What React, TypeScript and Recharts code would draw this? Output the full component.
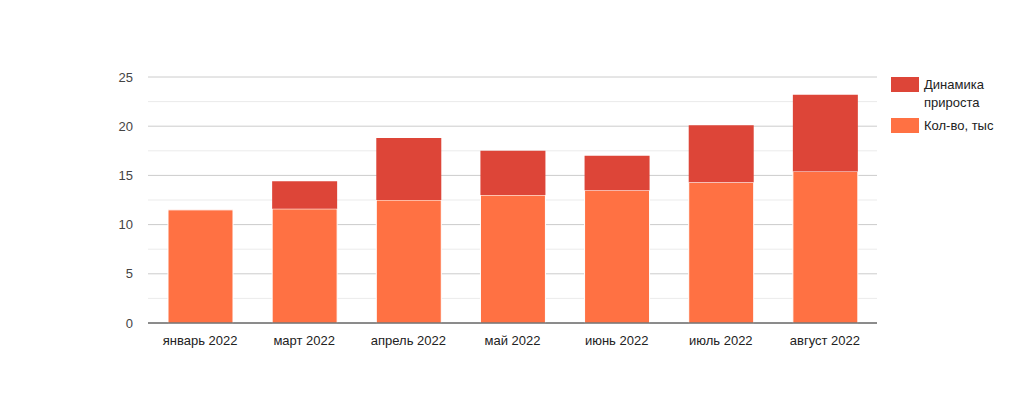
import React from "react";
import { BarChart, Bar, XAxis, YAxis, CartesianGrid } from "recharts";

// months on the x axis
const months = [
  "январь 2022",
  "март 2022",
  "апрель 2022",
  "май 2022",
  "июнь 2022",
  "июль 2022",
  "август 2022",
];

// bottom segment: quantity, thousands
const qty = [11.5, 11.6, 12.5, 13, 13.5, 14.3, 15.4];
// top segment: growth
const growth = [0, 2.8, 6.3, 4.5, 3.5, 5.8, 7.8];

const yTicks = [0, 5, 10, 15, 20, 25];
const minorLines = [2.5, 7.5, 12.5, 17.5, 22.5];

const data = months.map((m, i) => ({
  month: m,
  qty: qty[i],
  growth: growth[i],
}));

const RED = "#dd4538";
const ORANGE = "#ff7143";

// legend sits outside the svg so it doesn't eat into the plot area
const LegendBox = () => {
  const items = [
    { label: ["Динамика", "прироста"], color: RED },
    { label: ["Кол-во, тыс"], color: ORANGE },
  ];
  return (
    <div
      style={{
        position: "absolute",
        left: 891,
        top: 76,
        fontSize: 13,
        color: "#222",
      }}
    >
      {items.map((it, i) => (
        <div
          key={i}
          style={{ display: "flex", alignItems: "flex-start", marginBottom: 5 }}
        >
          <span
            style={{
              width: 28,
              height: 15,
              background: it.color,
              marginRight: 5,
              marginTop: 1,
              flexShrink: 0,
            }}
          />
          <div style={{ lineHeight: "18px" }}>
            {it.label.map((l, j) => (
              <div key={j}>{l}</div>
            ))}
          </div>
        </div>
      ))}
    </div>
  );
};

export default function App() {
  return (
    <div
      style={{
        position: "absolute",
        left: 0,
        top: 0,
        width: 1024,
        height: 400,
        background: "#fff",
        fontFamily: "Arial, 'Liberation Sans', sans-serif",
      }}
    >
      <BarChart
        width={1024}
        height={400}
        data={data}
        margin={{ top: 77, right: 147, bottom: 47, left: 108 }}
      >
        <CartesianGrid
          vertical={false}
          horizontalValues={minorLines}
          stroke="#ebebeb"
        />
        <CartesianGrid
          vertical={false}
          horizontalValues={yTicks}
          stroke="#cccccc"
        />
        <XAxis
          dataKey="month"
          axisLine={{ stroke: "#333", strokeWidth: 1 }}
          tickLine={false}
          tickMargin={7}
          interval={0}
          tick={{ fill: "#222", fontSize: 13 }}
        />
        <YAxis
          width={40}
          domain={[0, 25]}
          ticks={yTicks}
          axisLine={false}
          tickLine={false}
          tickMargin={9}
          tick={{ fill: "#444", fontSize: 13 }}
        />
        <Bar
          dataKey="qty"
          name="Кол-во, тыс"
          stackId="a"
          fill={ORANGE}
          stroke="#fff"
          strokeWidth={1}
          barSize={65}
          isAnimationActive={false}
        />
        <Bar
          dataKey="growth"
          name="Динамика прироста"
          stackId="a"
          fill={RED}
          barSize={65}
          isAnimationActive={false}
        />
      </BarChart>
      <LegendBox />
    </div>
  );
}
